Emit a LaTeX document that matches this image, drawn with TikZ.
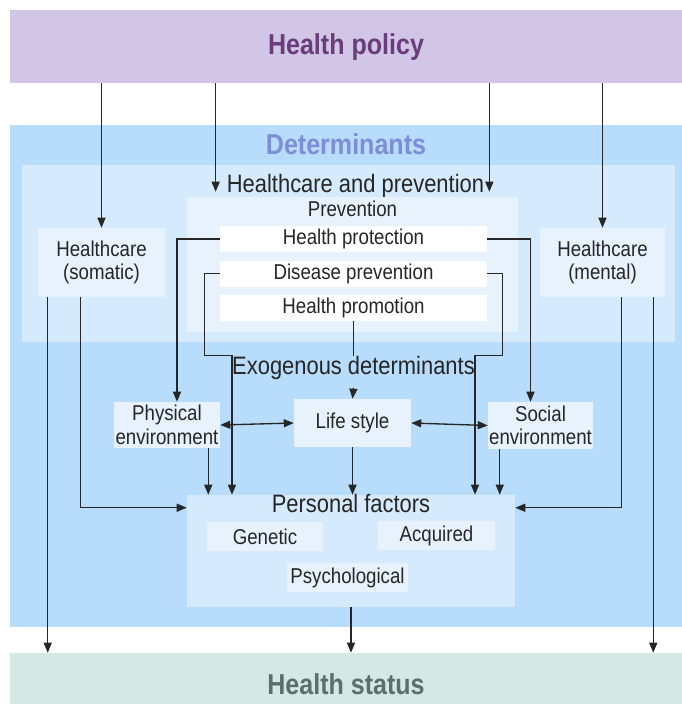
\documentclass[tikz,border=0pt]{standalone}
\usepackage{fontspec}
\setmainfont{Liberation Sans}[FakeStretch=0.87]
\usetikzlibrary{positioning, calc, fit, arrows.meta}

\definecolor{policylilac}{HTML}{D1C6E5}
\definecolor{policyink}{HTML}{6A3C7C}
\definecolor{detblue}{HTML}{B8DCFB}
\definecolor{detink}{HTML}{7E8DD7}
\definecolor{panelblue}{HTML}{D5EAFC}
\definecolor{boxblue}{HTML}{E7F2FD}
\definecolor{statusmint}{HTML}{D4E9E3}
\definecolor{statusink}{HTML}{5C6F6B}

\newcommand{\headfont}{\fontsize{21.6}{24}\selectfont\bfseries}
\newcommand{\titlefont}{\fontsize{18.9}{21}\selectfont}
\newcommand{\itemfont}{\fontsize{16.1}{17.6}\selectfont}

\begin{document}
\begin{tikzpicture}[x=0.75pt, y=-0.75pt,
    band/.style={fill=#1, inner sep=0pt},
    item/.style={fill=boxblue, inner sep=0pt, align=center,
                 font=\itemfont, text=black!85},
    prevbox/.style={item, fill=white, minimum width=200.25pt, minimum height=19.5pt},
    title/.style={inner sep=0pt, anchor=base, font=\titlefont, text=black!85},
    head/.style={inner sep=0pt, anchor=base, font=\headfont},
    link/.style={line width=1pt, draw=black!85,
                 -{Triangle[length=7.5pt,width=6pt]}},
    twoway/.style={line width=1pt, draw=black!85,
                   {Triangle[length=7.5pt,width=6pt]}-{Triangle[length=7.5pt,width=6pt]}},
    wire/.style={line width=1pt, draw=black!85},
]
    \path[use as bounding box, fill=white] (0,0) rectangle (682,704);

    % Bands
    \node[band=policylilac, fit={(10,10) (682,83)}] (policy) {};
    \node[head, text=policyink] (policytext) at ($(policy.center)+(0,8)$) {Health policy};
    \node[band=detblue, fit={(10,125) (682,627)}] (det) {};
    \node[head, text=detink] (dettitle) at ($(det.north)+(0,30)$) {Determinants};
    \node[band=statusmint, fit={(10,653) (682,704)}] (status) {};
    \node[head, text=statusink] (statustext) at ($(status.north)+(0,42)$) {Health status};

    % Healthcare and prevention
    \node[band=panelblue, fit={(22,165) (675,342)}] (hcp) {};
    \node[title] (hcptitle) at ($(hcp.north)+(7,28)$) {Healthcare and prevention};
    \node[band=boxblue, fit={(187,197) (518,332)}] (prev) {};
    \node[title, font=\itemfont] (prevtitle) at ($(prev.north)+(0,20)$) {Prevention};
    \node[prevbox] (protect) at (353.5,239) {Health protection};
    \node[prevbox, below=6pt of protect] (disease) {Disease prevention};
    \node[prevbox, below=6pt of disease] (promo) {Health promotion};
    \node[item, minimum width=95.25pt, minimum height=51.75pt]
        (somatic) at (101.5,262.5) {Healthcare\\(somatic)};
    \node[item, minimum width=93.75pt, minimum height=51.75pt]
        (mental) at (602.5,262.5) {Healthcare\\(mental)};

    % Exogenous determinants
    \node[title] (exo) at ($(promo.south)+(0,53)$) {Exogenous determinants};
    \node[item, minimum width=79.5pt, minimum height=34.5pt]
        (physical) at (167,425) {Physical\\environment};
    \node[item, minimum width=87.75pt, minimum height=36pt]
        (lifestyle) at (352.5,423) {Life style};
    \node[item, minimum width=78.75pt, minimum height=35.25pt]
        (social) at (540.5,425.5) {Social\\environment};

    % Personal factors
    \node[band=panelblue, fit={(187,495) (515,607)}] (personal) {};
    \node[title] (perstitle) at ($(personal.north)+(0,18)$) {Personal factors};
    \node[item, minimum width=87pt, minimum height=21.75pt]
        (genetic) at (265,536.5) {Genetic};
    \node[item, minimum width=87.75pt, minimum height=21.75pt]
        (acquired) at (436.5,535.5) {Acquired};
    \node[item, minimum width=90.75pt, minimum height=21.75pt]
        (psych) at (347.5,577.5) {Psychological};

    % Ends of the free connectors
    \coordinate (hpleft) at ($(hcptitle.base west)+(-11,-1)$);
    \coordinate (hpright) at ($(hcptitle.base east)+(5,-1)$);
    \coordinate (somout) at ($(somatic.south west)+(10,0)$);
    \coordinate (somin) at ($(somatic.south west)+(43,0)$);
    \coordinate (menin) at ($(mental.south west)+(82,0)$);
    \coordinate (menout) at ($(mental.south east)+(-12,0)$);
    \coordinate (physout) at ($(physical.south east)+(-12,0)$);
    \coordinate (socout) at ($(social.south west)+(12,0)$);

    % Policy into the determinants
    \draw[link] (policy.south -| somatic.north) -- (somatic.north);
    \draw[link] (policy.south -| hpleft) -- (hpleft);
    \draw[link] (policy.south -| hpright) -- (hpright);
    \draw[link] (policy.south -| mental.north) -- (mental.north);

    % Prevention into the exogenous determinants
    \draw[link] (protect.west) -| ($(physical.north)+(10,0)$);
    \draw[link] (protect.east) -| ($(social.north)+(-10,0)$);
    \draw[link] (disease.west) -- ++(-15,0) |- (exo.north west)
        -- (exo.north west |- personal.north);
    \draw[link] (disease.east) -- ++(15,0) |- (exo.north east)
        -- (exo.north east |- personal.north);
    \draw[wire] (promo.south) -- (exo.north);
    \draw[link] ([yshift=-6pt]exo.south) -- (lifestyle.north);
    \draw[twoway] (physical.east) -- (lifestyle.west);
    \draw[twoway] (lifestyle.east) -- (social.west);

    % Into personal factors
    \draw[link] (physout) -- (physout |- personal.north);
    \draw[link] (lifestyle.south) -- (lifestyle.south |- personal.north);
    \draw[link] (socout) -- (socout |- personal.north);
    \draw[link] (somin) |- ($(personal.north west)+(0,13)$);
    \draw[link] (menin) |- ($(personal.north east)+(0,13)$);

    % Into health status
    \draw[link] (somout) -- (somout |- status.north);
    \draw[link] (personal.south) -- (personal.south |- status.north);
    \draw[link] (menout) -- (menout |- status.north);
\end{tikzpicture}
\end{document}
